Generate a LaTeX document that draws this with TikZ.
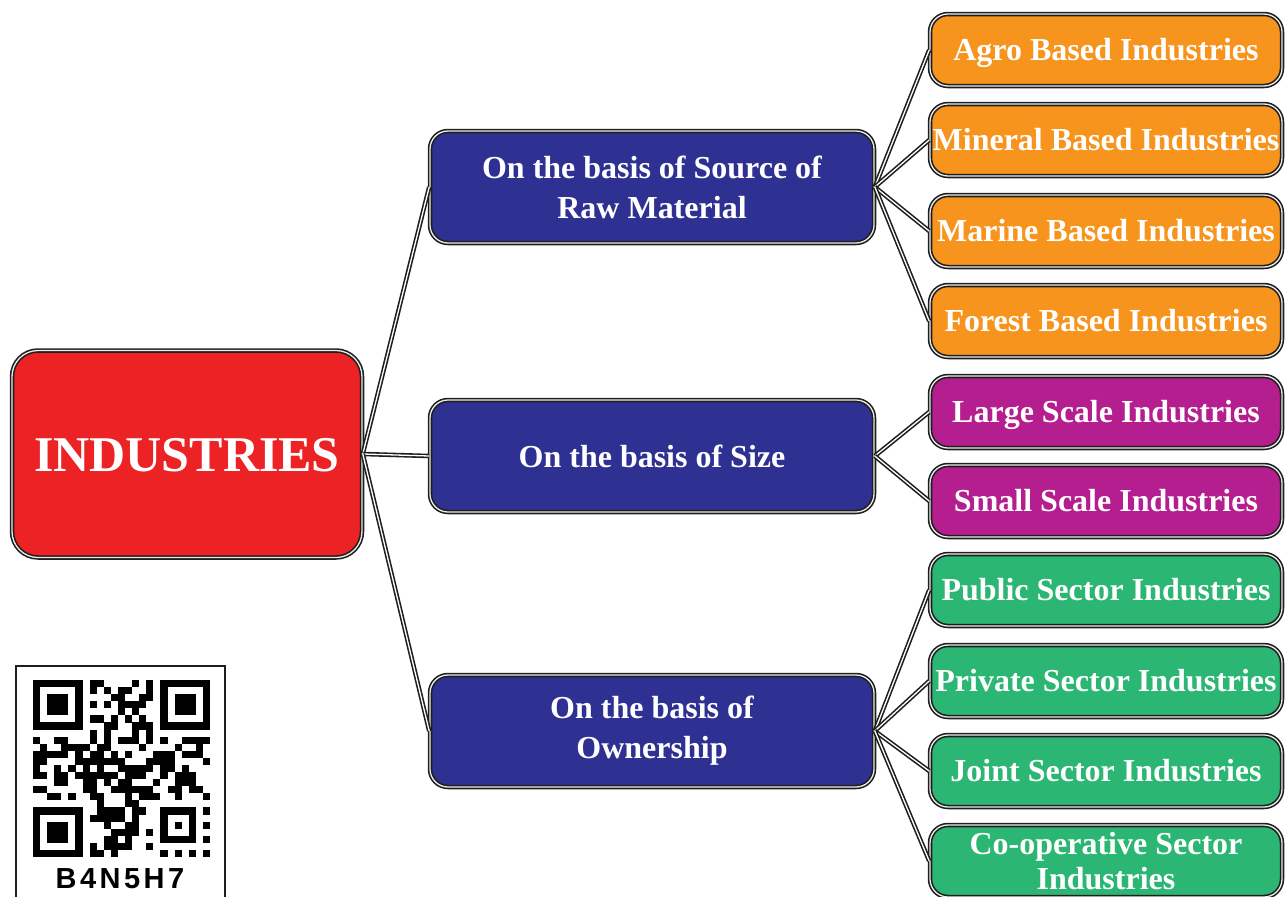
\documentclass[tikz,border=0pt]{standalone}
\usepackage{fontspec}
\setmainfont{Liberation Serif}
\newfontfamily\qrfont[LetterSpace=12]{Liberation Sans}
\usepackage{xcolor}
\usepackage{tikz}
\usetikzlibrary{positioning}
\definecolor{rootred}{HTML}{ED2224}
\definecolor{basisblue}{HTML}{2E3192}
\definecolor{agroorange}{HTML}{F7941D}
\definecolor{scalepurple}{HTML}{B41E8E}
\definecolor{sectorgreen}{HTML}{2BB673}
\definecolor{rim}{HTML}{1E1E1E}

\begin{document}
\begin{tikzpicture}[x=1pt,y=-1pt,
  box/.style={rectangle,rounded corners=18pt,draw=rim,line width=1.6pt,double=white!85!gray,double distance=1.3pt,text=white,align=center,font=\bfseries\fontsize{32}{35}\selectfont},
  rootbox/.style={box,fill=rootred,rounded corners=26pt,minimum width=350pt,minimum height=207pt,text height=34pt,text depth=0pt,font=\bfseries\fontsize{50}{56}\selectfont},
  basisbox/.style={box,fill=basisblue,minimum width=444pt,minimum height=112pt,font=\bfseries\fontsize{32}{40}\selectfont},
  leafbox/.style={box,minimum width=352pt,minimum height=72pt,inner xsep=2pt,text height=23pt,text depth=3pt},
  link/.style={draw=rim,line width=1.6pt,double=white,double distance=1.3pt}]
\useasboundingbox (0,0) rectangle (1286,897);

% root and the three bases
\node[rootbox] (industries) at (187,454) {INDUSTRIES};
\node[basisbox] (raw) at (652,187) {On the basis of Source of\\Raw Material};
\node[basisbox] (size) at (652,456) {On the basis of Size};
\node[basisbox] (owner) at (652,731) {On the basis of\\Ownership};

% raw material
\node[leafbox,fill=agroorange] (agro) at (1106,50) {Agro Based Industries};
\node[leafbox,fill=agroorange] (mineral) at (1106,140) {Mineral Based Industries};
\node[leafbox,fill=agroorange] (marine) at (1106,231) {Marine Based Industries};
\node[leafbox,fill=agroorange] (forest) at (1106,321) {Forest Based Industries};
% size
\node[leafbox,fill=scalepurple] (large) at (1106,412) {Large Scale Industries};
\node[leafbox,fill=scalepurple] (small) at (1106,501) {Small Scale Industries};
% ownership
\node[leafbox,fill=sectorgreen] (public) at (1106,590) {Public Sector Industries};
\node[leafbox,fill=sectorgreen] (private) at (1106,681) {Private Sector Industries};
\node[leafbox,fill=sectorgreen] (joint) at (1106,771) {Joint Sector Industries};
\node[leafbox,fill=sectorgreen,text height=,text depth=] (coop) at (1106,861) {Co-operative Sector\\Industries};

\foreach \b in {raw,size,owner}
  \draw[link] (industries.east) -- (\b.west);
\foreach \l in {agro,mineral,marine,forest}
  \draw[link] (raw.east) -- (\l.west);
\foreach \l in {large,small}
  \draw[link] (size.east) -- (\l.west);
\foreach \l in {public,private,joint,coop}
  \draw[link] (owner.east) -- (\l.west);

% qr code
\draw[line width=2pt,rim] (16,666) rectangle (225,899);
\pgfmathsetseed{4857}
\foreach \i in {0,...,24}{
  \foreach \j in {0,...,24}{
    \pgfmathtruncatemacro\qbit{random(0,99)<50}
    \pgfmathtruncatemacro\qfree{!((\i<8 && \j<8) || (\i>16 && \j<8) || (\i<8 && \j>16) || (\i>16 && \i<24 && \j>16 && \j<24))}
    \ifnum\qbit\qfree=11 \fill (33+\i*7.08,680+\j*7.08) rectangle ++(7.1,7.1);\fi
  }
}
\foreach \qx/\qy in {0/0,18/0,0/18}{
  \fill (33+\qx*7.08,680+\qy*7.08) rectangle ++(49.56,49.56);
  \fill[white] (33+\qx*7.08+7.08,680+\qy*7.08+7.08) rectangle ++(35.4,35.4);
  \fill (33+\qx*7.08+14.16,680+\qy*7.08+14.16) rectangle ++(21.24,21.24);
}
\fill (33+18*7.08,680+18*7.08) rectangle ++(35.4,35.4);
\fill[white] (33+19*7.08,680+19*7.08) rectangle ++(21.24,21.24);
\fill (33+20*7.08,680+20*7.08) rectangle ++(7.08,7.08);
\node[font=\qrfont\bfseries\fontsize{29}{29}\selectfont] (qrcode) at (120,879) {B4N5H7};
\end{tikzpicture}
\end{document}
